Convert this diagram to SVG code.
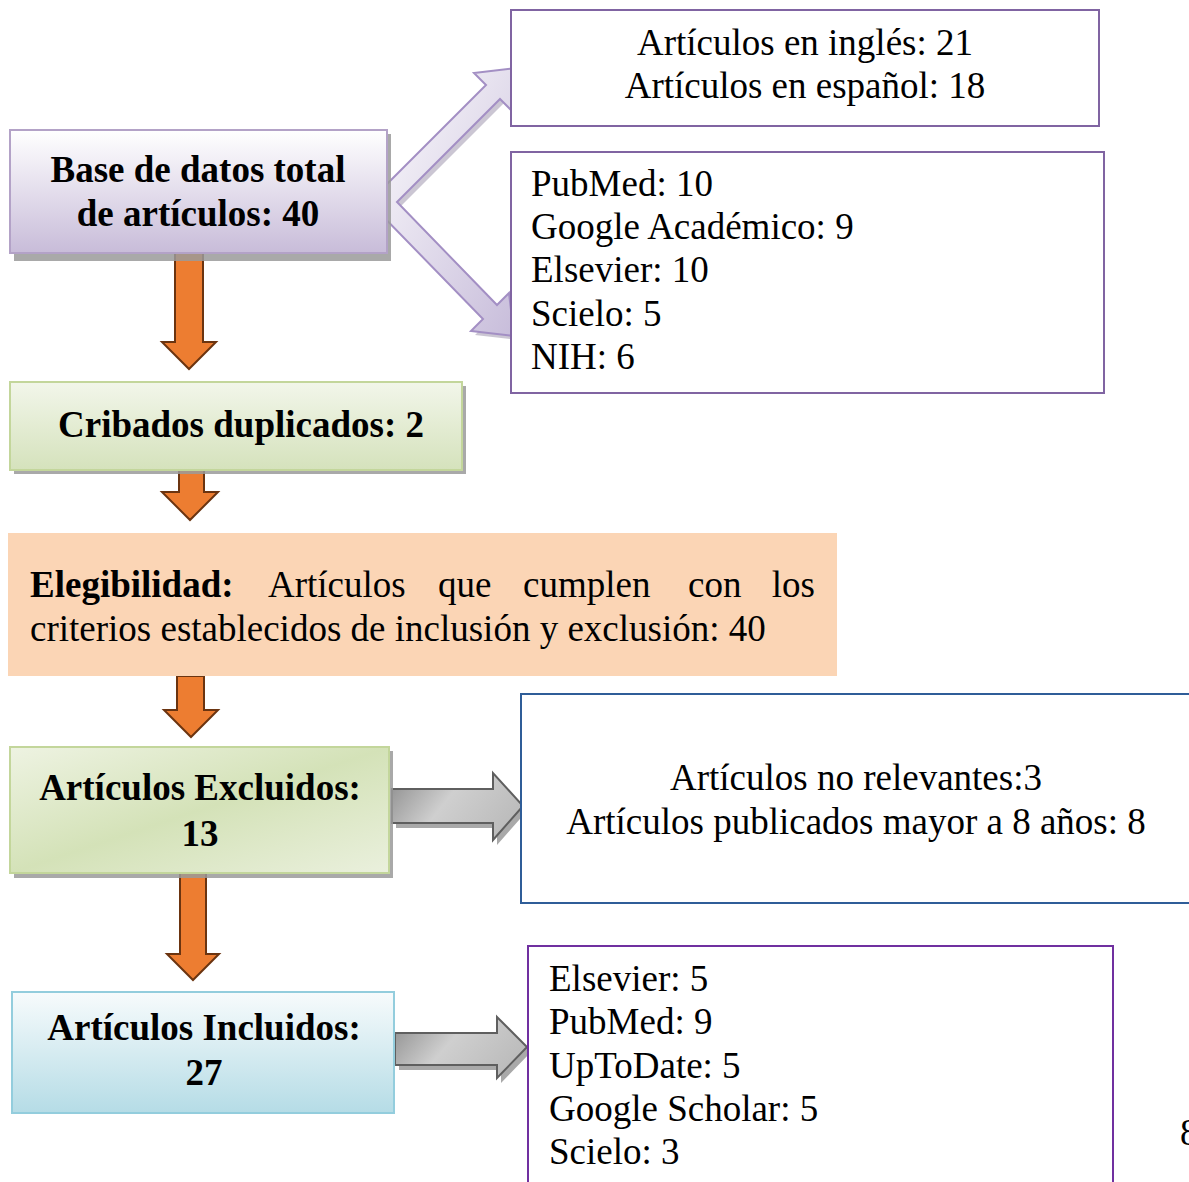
<svg xmlns="http://www.w3.org/2000/svg" width="1189" height="1182" viewBox="0 0 1189 1182">
<style>
  text { font-family: "Liberation Serif", "Times New Roman", serif; fill: #000; }
  .b { font-weight: bold; font-size: 37px; }
  .r { font-size: 37px; }
  .shadow { fill: #9a9a9a; opacity: 0.85; }
  .orange { fill: #ed7d31; stroke: #6b3410; stroke-width: 2; }
  .gray { fill: url(#gGray); stroke: #5f5f5f; stroke-width: 2; }
</style>
<defs>
  <linearGradient id="gPurple" x1="0" y1="0" x2="0" y2="1">
    <stop offset="0" stop-color="#ffffff"/>
    <stop offset="1" stop-color="#c8bcd9"/>
  </linearGradient>
  <linearGradient id="gGreen" x1="0" y1="0" x2="0" y2="1">
    <stop offset="0" stop-color="#f2f6ea"/>
    <stop offset="1" stop-color="#d5e2bc"/>
  </linearGradient>
  <linearGradient id="gGreen2" x1="0" y1="0" x2="1" y2="1">
    <stop offset="0" stop-color="#eef3e2"/>
    <stop offset="0.5" stop-color="#d4e2b8"/>
    <stop offset="1" stop-color="#eaf0dd"/>
  </linearGradient>
  <linearGradient id="gBlue" x1="0" y1="0" x2="0" y2="1">
    <stop offset="0" stop-color="#f7fbfc"/>
    <stop offset="1" stop-color="#b5dce6"/>
  </linearGradient>
  <linearGradient id="gGray" x1="0" y1="0" x2="1" y2="0.4">
    <stop offset="0" stop-color="#8c8c8c"/>
    <stop offset="0.5" stop-color="#cfcfcf"/>
    <stop offset="1" stop-color="#bdbdbd"/>
  </linearGradient>
  <linearGradient id="gChev" x1="0" y1="0" x2="1" y2="1">
    <stop offset="0" stop-color="#ffffff"/>
    <stop offset="1" stop-color="#c7bcda"/>
  </linearGradient>
</defs>

<g id="connectors">
  <!-- orange down arrows -->
  <polygon class="orange" points="175,253 203,253 203,342 216,342 189,369 162,342 175,342"/>
  <polygon class="orange" points="179,470 204,470 204,492 218,492 190,520 162,492 179,492"/>
  <polygon class="orange" points="177,676 204,676 204,710 218,710 191,737 164,710 177,710"/>
  <polygon class="orange" points="180,873 206,873 206,954 219,954 193,980 167,954 180,954"/>
  <!-- double chevron arrow -->
  <polygon transform="translate(4,4)" fill="#a9a0b5" opacity="0.6" points="369,202 486,85 474,73 517,68 512,111 500,99 397,202 497,305 509,293 514,336 471,331 483,319"/>
  <polygon fill="url(#gChev)" stroke="#a38fc4" stroke-width="2" stroke-linejoin="miter" points="369,202 486,85 474,73 517,68 512,111 500,99 397,202 497,305 509,293 514,336 471,331 483,319"/>
  <!-- gray right arrows -->
  <polygon transform="translate(4,5)" class="shadow" opacity="0.5" points="392,789 493,789 493,773 523,806 493,840 493,823 392,823"/>
  <polygon class="gray" points="392,789 493,789 493,773 523,806 493,840 493,823 392,823"/>
  <polygon transform="translate(4,5)" class="shadow" opacity="0.5" points="395,1033 497,1033 497,1017 527,1047 497,1078 497,1065 395,1065"/>
  <polygon class="gray" points="395,1033 497,1033 497,1017 527,1047 497,1078 497,1065 395,1065"/>
</g>

<g id="node-base">
  <rect x="14" y="134" width="377" height="127" class="shadow"/>
  <rect x="10" y="130" width="377" height="123" fill="url(#gPurple)" stroke="#b3a2c7" stroke-width="2"/>
  <text class="b" x="198" y="182" text-anchor="middle">Base de datos total</text>
  <text class="b" x="198" y="226" text-anchor="middle">de artículos: 40</text>
</g>

<g id="node-idiomas">
  <rect x="511" y="10" width="588" height="116" fill="#ffffff" stroke="#8064a2" stroke-width="2"/>
  <text class="r" x="805" y="55" text-anchor="middle">Artículos en inglés: 21</text>
  <text class="r" x="805" y="98" text-anchor="middle">Artículos en español: 18</text>
</g>

<g id="node-fuentes">
  <rect x="511" y="152" width="593" height="241" fill="#ffffff" stroke="#8064a2" stroke-width="2"/>
  <text class="r" x="531" y="196">PubMed: 10</text>
  <text class="r" x="531" y="239">Google Académico: 9</text>
  <text class="r" x="531" y="282">Elsevier: 10</text>
  <text class="r" x="531" y="326">Scielo: 5</text>
  <text class="r" x="531" y="369">NIH: 6</text>
</g>

<g id="node-cribados">
  <rect x="14" y="386" width="452" height="88" class="shadow"/>
  <rect x="10" y="382" width="452" height="88" fill="url(#gGreen)" stroke="#c3d69b" stroke-width="2"/>
  <text class="b" x="241" y="437" text-anchor="middle">Cribados duplicados: 2</text>
</g>

<g id="node-elegibilidad">
  <rect x="8" y="533" width="829" height="143" fill="#fbd5b5"/>
  <text class="b" x="30" y="597">Elegibilidad:</text>
  <text class="r" x="268" y="597">Artículos</text>
  <text class="r" x="438" y="597">que</text>
  <text class="r" x="523" y="597">cumplen</text>
  <text class="r" x="688" y="597">con</text>
  <text class="r" x="815" y="597" text-anchor="end">los</text>
  <text class="r" x="30" y="641">criterios establecidos de inclusión y exclusión: 40</text>
</g>

<g id="node-excluidos">
  <rect x="14" y="751" width="379" height="127" class="shadow"/>
  <rect x="10" y="747" width="379" height="126" fill="url(#gGreen2)" stroke="#c3d69b" stroke-width="2"/>
  <text class="b" x="200" y="800" text-anchor="middle">Artículos Excluidos:</text>
  <text class="b" x="200" y="846" text-anchor="middle">13</text>
</g>

<g id="node-motivos">
  <rect x="521" y="694" width="680" height="209" fill="#ffffff" stroke="#2f5d98" stroke-width="2"/>
  <text class="r" x="856" y="790" text-anchor="middle">Artículos no relevantes:3</text>
  <text class="r" x="856" y="834" text-anchor="middle">Artículos publicados mayor a 8 años: 8</text>
</g>

<g id="node-incluidos">
  <rect x="12" y="992" width="382" height="121" fill="url(#gBlue)" stroke="#93cddd" stroke-width="2"/>
  <text class="b" x="204" y="1040" text-anchor="middle">Artículos Incluidos:</text>
  <text class="b" x="204" y="1085" text-anchor="middle">27</text>
</g>

<g id="node-fuentes-incluidos">
  <rect x="528" y="946" width="585" height="250" fill="#ffffff" stroke="#7030a0" stroke-width="2"/>
  <text class="r" x="549" y="991">Elsevier: 5</text>
  <text class="r" x="549" y="1034">PubMed: 9</text>
  <text class="r" x="549" y="1078">UpToDate: 5</text>
  <text class="r" x="549" y="1121">Google Scholar: 5</text>
  <text class="r" x="549" y="1164">Scielo: 3</text>
</g>

<text class="r" x="1180" y="1145">8</text>
</svg>
